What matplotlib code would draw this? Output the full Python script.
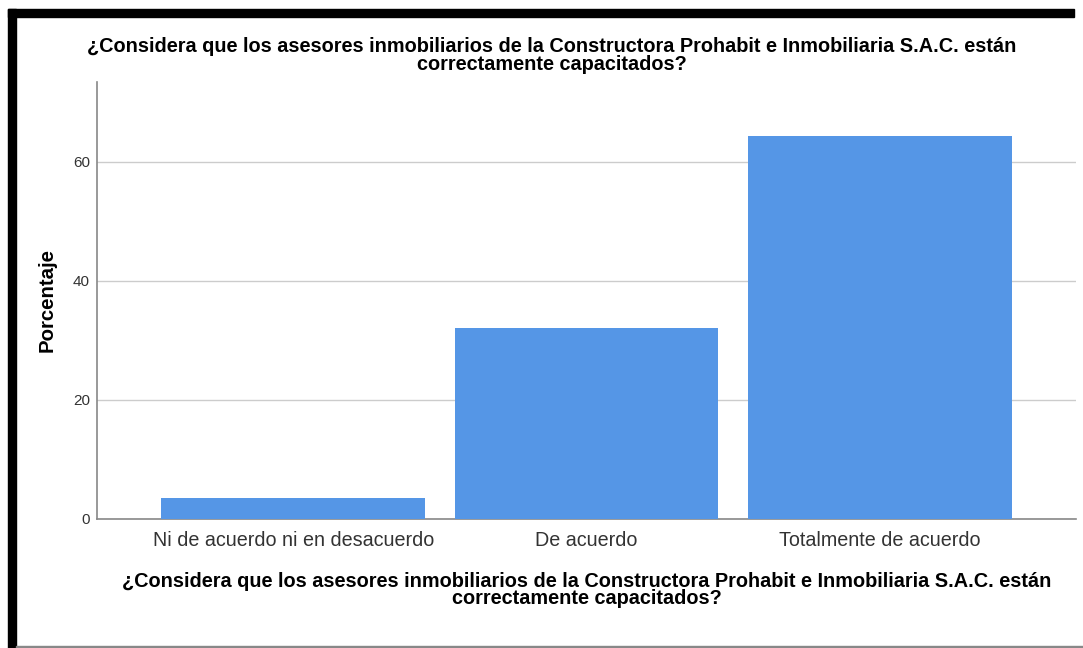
import matplotlib.pyplot as plt
from matplotlib.patches import Rectangle

plt.rcParams['font.family'] = ['Liberation Sans', 'DejaVu Sans']

# data
categorias = ["Ni de acuerdo ni en desacuerdo", "De acuerdo", "Totalmente de acuerdo"]
porcentajes = [3.57, 32.14, 64.29]
y_ticks = [0, 20, 40, 60]

pregunta = ("¿Considera que los asesores inmobiliarios de la Constructora Prohabit e Inmobiliaria S.A.C. están\n"
            "correctamente capacitados?")

W, H = 1083, 648
fig = plt.figure(figsize=(W / 100, H / 100), dpi=100)

# axes box in pixels: left 97, right 1076, top 82, bottom 519
ax = fig.add_axes([97 / W, 1 - 519 / H, (1076 - 97) / W, (519 - 82) / H])

x = list(range(len(categorias)))
ax.bar(x, porcentajes, width=0.9, color="#5596e6", zorder=3)

ax.set_xlim(-0.67, 2.67)
ax.set_ylim(0, 73.4)
ax.set_yticks(y_ticks)
ax.set_xticks(x)
ax.set_xticklabels(categorias, fontsize=14.2, color="#333333")
ax.tick_params(axis="y", labelsize=11, length=0, pad=5, colors="#333333")
ax.tick_params(axis="x", length=0, pad=9)

ax.grid(axis="y", color="#cccccc", linewidth=1, zorder=0)
for s in ["top", "right"]:
    ax.spines[s].set_visible(False)
for s in ["left", "bottom"]:
    ax.spines[s].set_color("#888888")
    ax.spines[s].set_linewidth(1.2)

ax.set_ylabel("Porcentaje", fontsize=14.7, fontweight="bold", labelpad=12)

# titulo y etiqueta del eje x
fig.text(551.5 / W, 1 - 37 / H, pregunta, ha="center", va="top",
         fontsize=14.3, fontweight="bold", linespacing=0.9)
fig.text(586.5 / W, 1 - 572 / H, pregunta, ha="center", va="top",
         fontsize=14.3, fontweight="bold", linespacing=0.9)

# black frame of the screenshot
fig.patches.append(Rectangle((8 / W, 1 - 17 / H), (W - 9) / W - 8 / W, 8 / H,
                             transform=fig.transFigure, color="black"))
fig.patches.append(Rectangle((8 / W, 0), 8 / W, 1 - 9 / H,
                             transform=fig.transFigure, color="black"))
fig.patches.append(Rectangle((16 / W, 0), 1 - 16 / W, 2 / H,
                             transform=fig.transFigure, color="#888888"))

fig.savefig("out.png", dpi=100)
